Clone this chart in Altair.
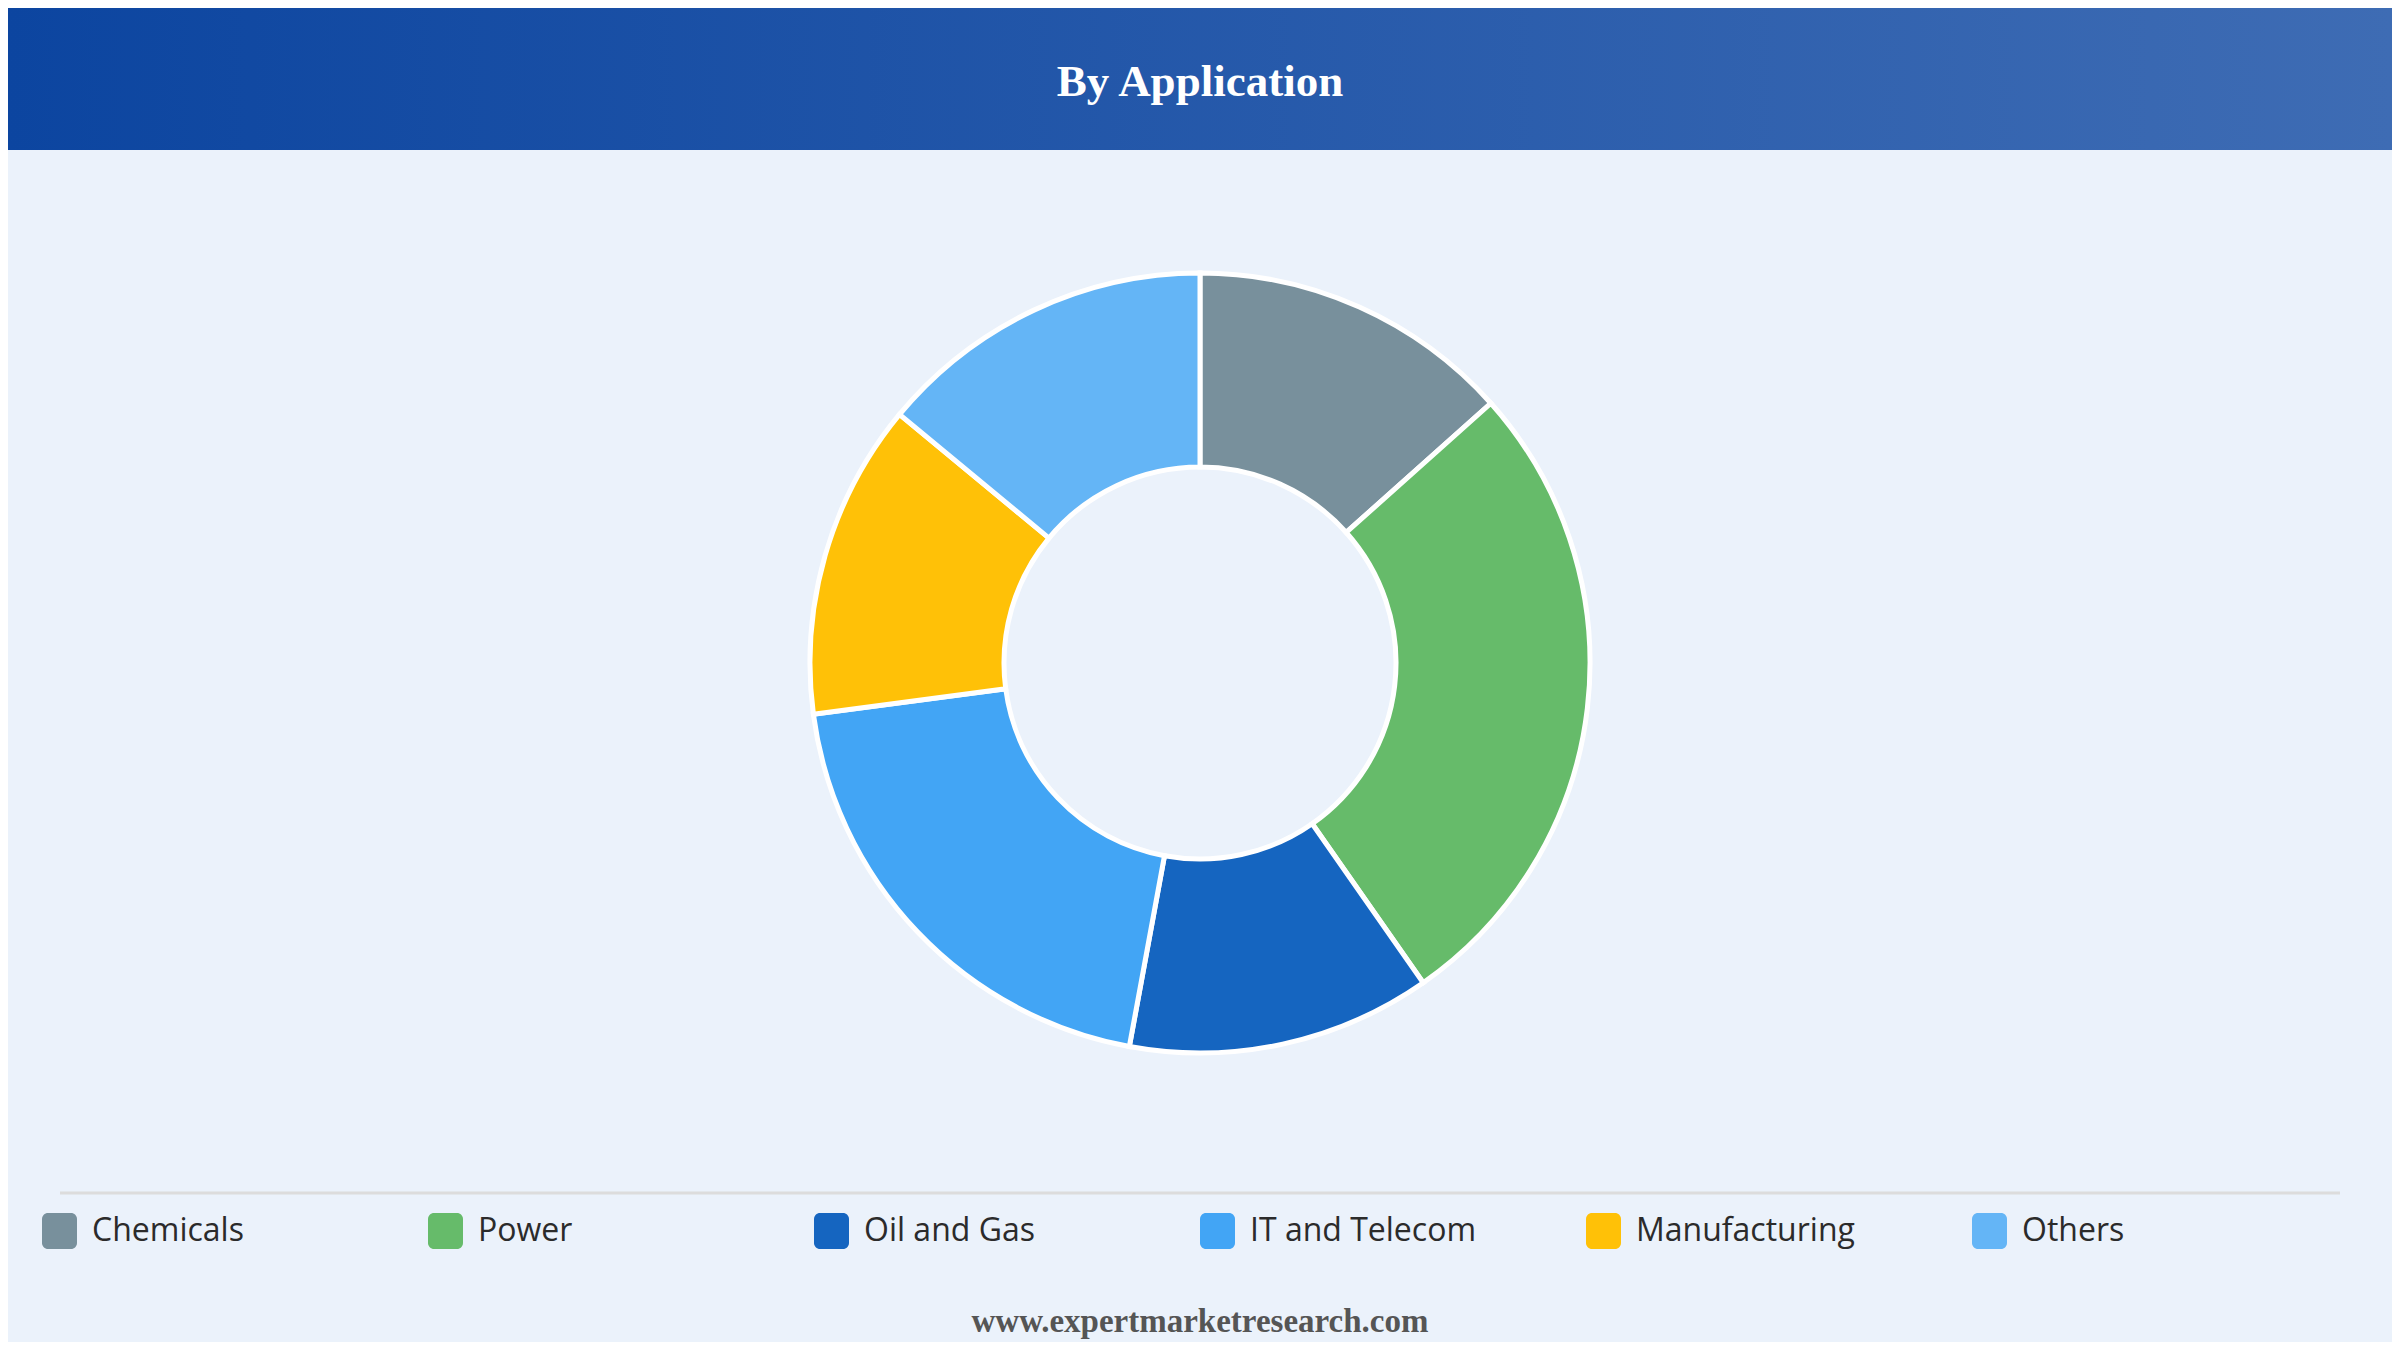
import altair as alt
import pandas as pd

categories = ["Chemicals", "Power", "Oil and Gas", "IT and Telecom", "Manufacturing", "Others"]
shares = [13.4, 26.9, 12.6, 20.0, 13.1, 14.0]
colors = ["#78909C", "#66BB6A", "#1565C0", "#42A5F5", "#FFC107", "#64B5F6"]
title_text = ["By Application"]
footer_text = ["www.expertmarketresearch.com"]

W, H = 2384, 1334
CX, CY = 1192, 655

df = pd.DataFrame({"category": categories, "share": shares, "order": list(range(len(categories)))})
color_scale = alt.Scale(domain=categories, range=colors)
one = pd.DataFrame({"a": [0]})

header = alt.Chart(one).mark_rect(
    color=alt.Gradient(
        gradient="linear",
        stops=[alt.GradientStop(color="#0C45A0", offset=0),
               alt.GradientStop(color="#3E6CB4", offset=1)],
        x1=0, x2=1, y1=0, y2=0,
    )
).encode(x=alt.value(0), x2=alt.value(W), y=alt.value(0), y2=alt.value(142))

title = alt.Chart(pd.DataFrame({"t": title_text})).mark_text(
    font="Liberation Serif", fontWeight="bold", fontSize=45, color="white",
    align="center", baseline="middle",
).encode(text="t:N", x=alt.value(CX), y=alt.value(74))

donut = alt.Chart(df).mark_arc(
    innerRadius=196, outerRadius=390, stroke="white", strokeWidth=5
).encode(
    theta=alt.Theta("share:Q", stack=True),
    color=alt.Color("category:N", scale=color_scale, legend=None),
    order=alt.Order("order:Q"),
    x=alt.value(CX), y=alt.value(CY),
)

divider = alt.Chart(one).mark_rule(color="#DCDCDC", strokeWidth=3).encode(
    x=alt.value(52), x2=alt.value(2332), y=alt.value(1185)
)

xleg = alt.X("order:Q", scale=alt.Scale(domain=[0, 6], range=[51.5, 2367.5], nice=False, zero=False), axis=None)

leg_sw = alt.Chart(df).mark_rect(width=35, height=36, cornerRadius=6).encode(
    x=xleg, y=alt.value(1223),
    color=alt.Color("category:N", scale=color_scale, legend=None),
)

leg_tx = alt.Chart(df).mark_text(
    align="left", baseline="middle", dx=32.5, font="Open Sans", fontSize=32, color="#2B2B2B"
).encode(x=xleg, y=alt.value(1223), text="category:N")

footer = alt.Chart(pd.DataFrame({"t": footer_text})).mark_text(
    font="Liberation Serif", fontWeight="bold", fontSize=33, color="#555555",
    align="center", baseline="middle",
).encode(text="t:N", x=alt.value(CX), y=alt.value(1314))

chart = alt.layer(header, title, donut, divider, leg_sw, leg_tx, footer).properties(
    width=W, height=H, padding=0, autosize="none", background="#EBF2FB"
).configure_view(stroke=None)

chart.save("out.html", embed_options={"renderer": "svg", "actions": False})
